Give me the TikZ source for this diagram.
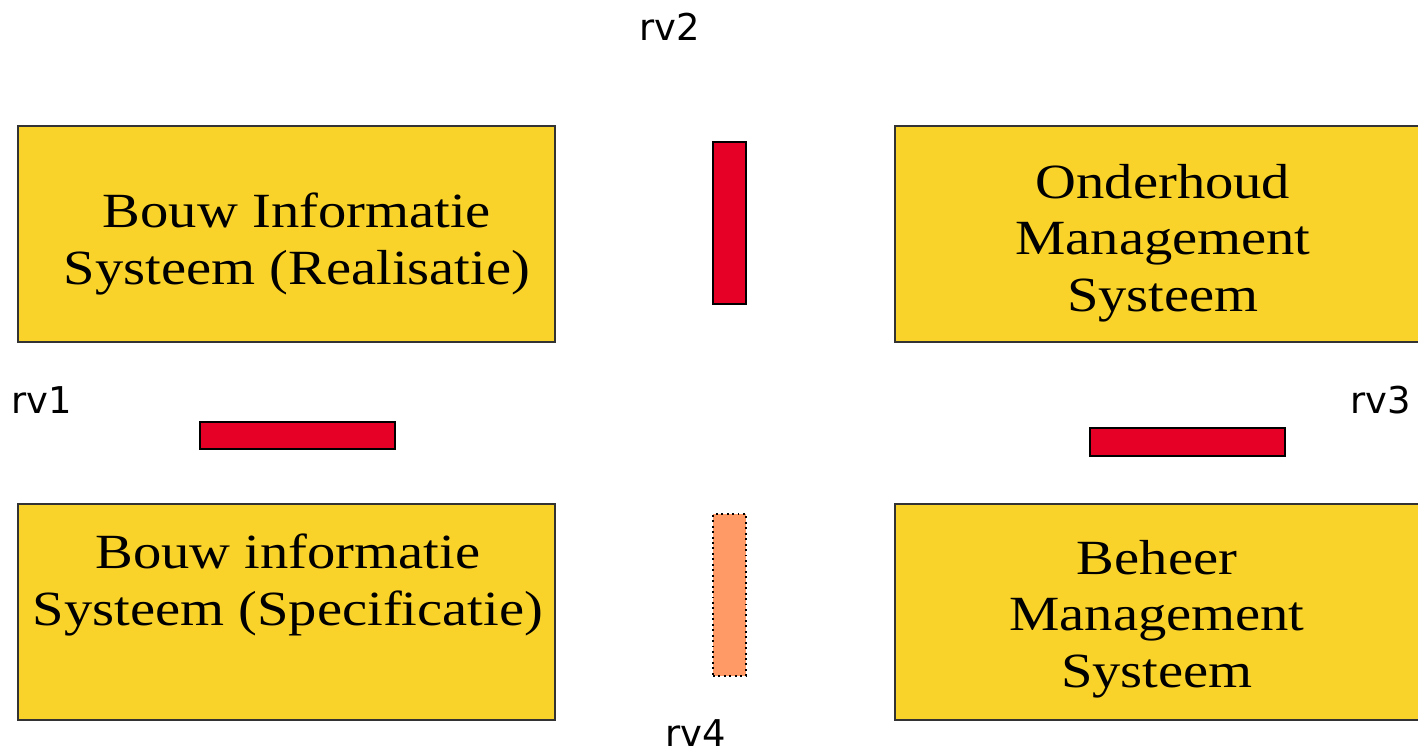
\documentclass[tikz,border=0pt]{standalone}
\usepackage{fontspec}
\setmainfont{Liberation Serif}[FakeStretch=1.15]
\newfontfamily\labelfont{DejaVu Sans}
\definecolor{boxyellow}{HTML}{F9D22A}
\definecolor{barred}{HTML}{E60026}
\definecolor{barorange}{HTML}{FF9966}
\begin{document}
\begin{tikzpicture}[x=0.02cm,y=-0.02cm,
		sysbox/.style={rectangle,draw=black!80,fill=boxyellow,line width=0.8pt,inner sep=0pt},
		systext/.style={align=center,font=\fontsize{28}{32.3}\selectfont},
		bar/.style={rectangle,draw=black,fill=barred,line width=0.8pt,inner sep=0pt},
		rvlabel/.style={font=\labelfont\fontsize{21}{24}\selectfont,inner sep=1pt}]
	\useasboundingbox (0,0) rectangle (1418,756);
	% systemen
	\node[sysbox,minimum width=10.74cm,minimum height=4.32cm](bisr) at (286.5,234){};
	\node[sysbox,minimum width=10.5cm,minimum height=4.32cm](oms) at (1157.5,234){};
	\node[sysbox,minimum width=10.74cm,minimum height=4.32cm](biss) at (286.5,612){};
	\node[sysbox,minimum width=10.5cm,minimum height=4.32cm](bms) at (1157.5,612){};
	\node[systext](bisrtext) at (297,244){Bouw Informatie\\Systeem (Realisatie)};
	\node[systext](omstext) at (1163,243){Onderhoud\\Management\\Systeem};
	\node[systext](bisstext) at (288,585){Bouw informatie\\Systeem (Specificatie)};
	\node[systext](bmstext) at (1157,619){Beheer\\Management\\Systeem};
	% raakvlakken
	\node[bar,minimum width=0.66cm,minimum height=3.24cm](bar2) at (729.5,223){};
	\node[bar,minimum width=3.9cm,minimum height=0.54cm](bar1) at (297.5,435.5){};
	\node[bar,minimum width=3.9cm,minimum height=0.56cm](bar3) at (1187.5,442){};
	\node[bar,fill=barorange,line width=1.1pt,dotted,minimum width=0.66cm,minimum height=3.24cm](bar4) at (729.5,595){};
	\node[rvlabel](rv1) at (42,400){rv1};
	\node[rvlabel](rv2) at (670,27){rv2};
	\node[rvlabel](rv3) at (1381,400){rv3};
	\node[rvlabel](rv4) at (696,733){rv4};
\end{tikzpicture}
\end{document}
